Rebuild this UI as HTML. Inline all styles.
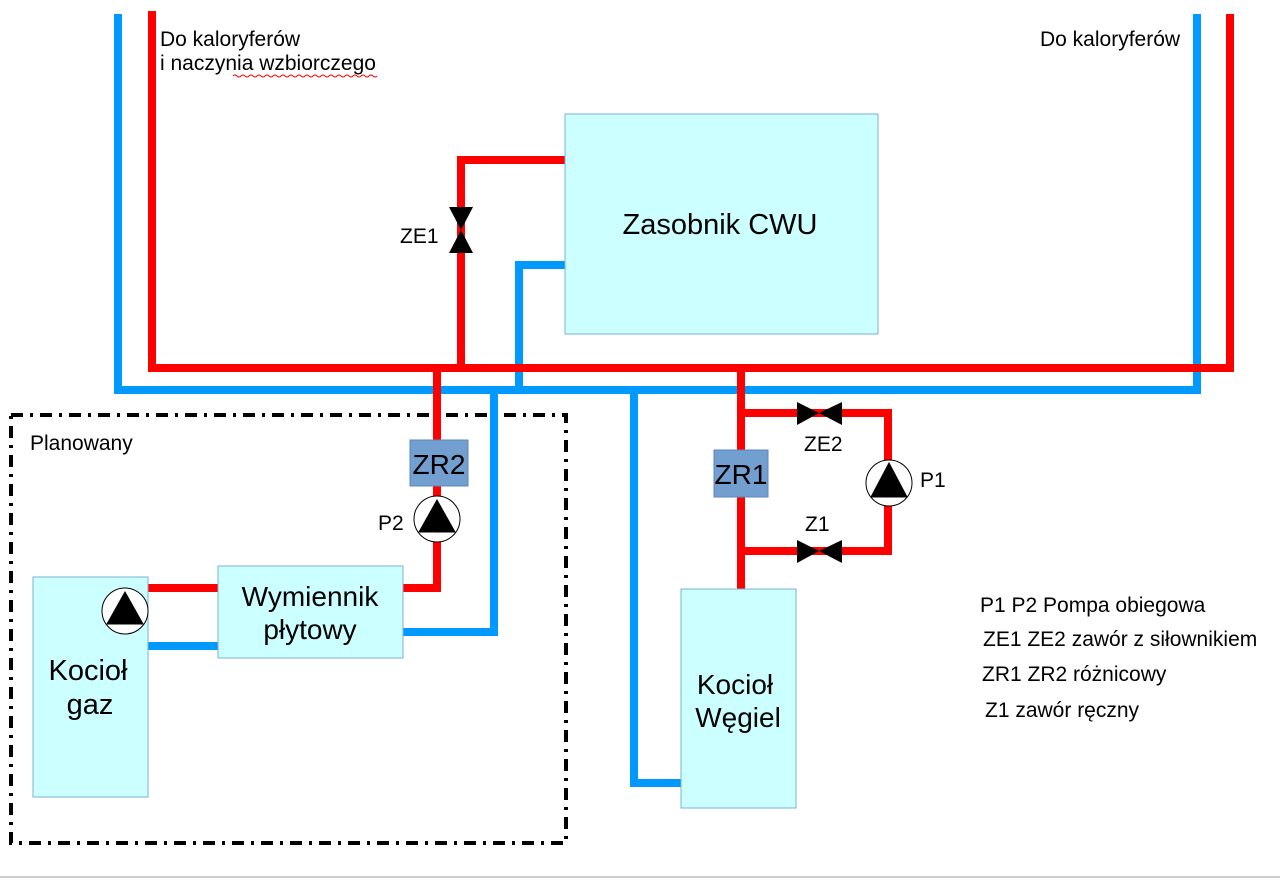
<!DOCTYPE html>
<html><head><meta charset="utf-8"><style>
html,body{margin:0;padding:0;background:#fff;width:1280px;height:880px;overflow:hidden}
svg{display:block}
text{font-family:"Liberation Sans",sans-serif;fill:#000}
</style></head><body>
<svg width="1280" height="880" viewBox="0 0 1280 880" xmlns="http://www.w3.org/2000/svg">
<g fill="none" stroke-linecap="square">
<rect x="11" y="415" width="555" height="428" stroke="#000" stroke-width="4" stroke-dasharray="12,7,3,7" stroke-linecap="butt"/>
<g stroke="#0099ff" stroke-width="8">
<polyline points="118,18 118,390 1197,390 1197,18"/>
<polyline points="519,390 519,265 565,265"/>
<polyline points="494,390 494,632 404,632"/>
<line x1="148" y1="646" x2="218" y2="646"/>
<polyline points="634,390 634,783 681,783"/>
</g>
<g stroke="#ff0000" stroke-width="8">
<polyline points="152,15 152,368 1230,368 1230,18"/>
<polyline points="461,368 461,160 565,160"/>
<polyline points="437,368 437,588 404,588"/>
<line x1="148" y1="588" x2="218" y2="588"/>
<line x1="741" y1="368" x2="741" y2="589"/>
<polyline points="741,413 888,413 888,551 741,551"/>
</g>
</g>
<rect x="565" y="114" width="313" height="220" fill="#ccffff" stroke="#7ab0d8" stroke-width="1"/>
<text x="720" y="234" font-size="29" text-anchor="middle">Zasobnik CWU</text>
<rect x="33" y="577" width="115" height="220" fill="#ccffff" stroke="#7ab0d8"/>
<text x="88" y="680" font-size="29" text-anchor="middle">Kocioł</text>
<text x="90" y="714" font-size="29" text-anchor="middle">gaz</text>
<rect x="218" y="566" width="185" height="92" fill="#ccffff" stroke="#7ab0d8"/>
<text x="310" y="606" font-size="28" text-anchor="middle">Wymiennik</text>
<text x="310" y="639" font-size="28" text-anchor="middle">płytowy</text>
<rect x="681" y="589" width="115" height="219" fill="#ccffff" stroke="#7ab0d8"/>
<text x="735" y="694" font-size="28" text-anchor="middle">Kocioł</text>
<text x="738" y="727" font-size="28" text-anchor="middle">Węgiel</text>
<rect x="410" y="440" width="58" height="46" fill="#729fcf" stroke="#5a87b8"/>
<text x="439" y="474" font-size="28" text-anchor="middle">ZR2</text>
<rect x="714" y="450" width="54" height="47" fill="#729fcf" stroke="#5a87b8"/>
<text x="741" y="484" font-size="28" text-anchor="middle">ZR1</text>
<g stroke="#000" stroke-width="1">
<circle cx="437" cy="519" r="23" fill="#fff"/><polygon points="437,500 419,532 455,532" fill="#000"/>
<circle cx="125" cy="611" r="23" fill="#fff"/><polygon points="125,592 107,624 143,624" fill="#000"/>
<circle cx="889" cy="483" r="23" fill="#fff"/><polygon points="889,463 871,497 907,497" fill="#000"/>
</g>
<g fill="#000">
<polygon points="797,402 797,425 819,413"/><polygon points="842,402 842,425 819,413"/>
<polygon points="797,540 797,563 819,551"/><polygon points="842,540 842,563 819,551"/>
<polygon points="449,207 473,207 461,230"/><polygon points="449,253 473,253 461,230"/>
</g>
<g font-size="21">
<text x="160" y="46">Do kaloryferów</text>
<text x="160" y="70">i naczynia wzbiorczego</text>
<text x="1040" y="46">Do kaloryferów</text>
<text x="30" y="450">Planowany</text>
<text x="400" y="243">ZE1</text>
<text x="378" y="530">P2</text>
<text x="804" y="451">ZE2</text>
<text x="805" y="531">Z1</text>
<text x="920" y="487">P1</text>
<text x="980" y="612">P1 P2 Pompa obiegowa</text>
<text x="983" y="646">ZE1 ZE2 zawór z siłownikiem</text>
<text x="982" y="681">ZR1 ZR2 różnicowy</text>
<text x="985" y="717">Z1 zawór ręczny</text>
</g>
<path d="M233,76 q2,-2 4,0 t4,0 t4,0 t4,0 t4,0 t4,0 t4,0 t4,0 t4,0 t4,0 t4,0 t4,0 t4,0 t4,0 t4,0 t4,0 t4,0 t4,0 t4,0 t4,0 t4,0 t4,0 t4,0 t4,0 t4,0 t4,0 t4,0 t4,0 t4,0 t4,0 t4,0 t4,0 t4,0 t4,0 t4,0 t4,0" stroke="#e00" fill="none" stroke-width="1"/>
<line x1="0" y1="877" x2="1280" y2="877" stroke="#ccc" stroke-width="2"/>
</svg>
</body></html>
